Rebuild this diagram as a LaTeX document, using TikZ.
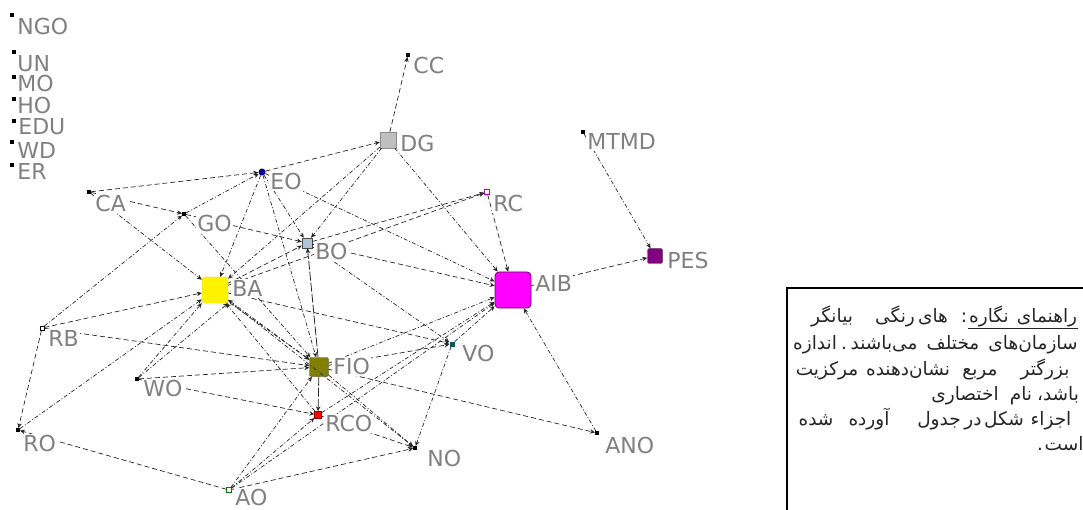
\documentclass[tikz,border=0pt]{standalone}
\usepackage{fontspec}
\setmainfont{DejaVu Sans}
\newfontfamily\fa[Script=Arabic]{DejaVu Sans}
\usetikzlibrary{arrows.meta}
\TeXXeTstate=1
\newcommand\RR[1]{\beginR #1\endR}
\definecolor{labgray}{RGB}{128,128,128}
\definecolor{bocol}{RGB}{176,196,222}
\definecolor{pescol}{RGB}{128,0,128}
\definecolor{fiocol}{RGB}{128,128,0}
\definecolor{eocol}{RGB}{0,0,140}
\definecolor{vocol}{RGB}{0,90,90}
\definecolor{aibcol}{RGB}{255,0,255}
\tikzset{
  mk/.style={rectangle, fill=black, minimum size=3.5pt, inner sep=0pt},
  lab/.style={text=labgray, font=\fontsize{22}{24}\selectfont, inner sep=1.2pt, fill=white, anchor=north west},
  lnk/.style={draw=black!85, line width=0.7pt, dash pattern=on 4pt off 2pt on 1pt off 2pt, -{Stealth[length=5pt,width=4.5pt]}},
  lnd/.style={draw=black!85, line width=0.7pt, dash pattern=on 5pt off 3pt, -{Stealth[length=5pt,width=4.5pt]}},
  lns/.style={draw=black!85, line width=0.8pt, dash pattern=on 9pt off 2pt, -{Stealth[length=5pt,width=4.5pt]}},
  fw/.style={font=\fa\fontsize{18.5}{20}\selectfont, text=black!85, inner sep=0pt, anchor=base}
}
\begin{document}
\begin{tikzpicture}[x=1pt,y=-1pt]
\useasboundingbox (0,0) rectangle (1083,510);
% markers
\node[mk] (NGO) at (12,15) {};
\node[mk] (UN) at (14,52) {};
\node[mk] (MO) at (14,77) {};
\node[mk] (HO) at (14,99) {};
\node[mk] (EDU) at (14,121) {};
\node[mk] (WD) at (12,142) {};
\node[mk] (ER) at (12,165) {};
\node[mk] (CA) at (89,192) {};
\node[circle, fill=eocol, minimum size=7pt, inner sep=0pt] (EO) at (262,172) {};
\node[mk] (GO) at (184,214) {};
\node[rectangle, fill=bocol, draw=black!70, minimum size=10pt, inner sep=0pt] (BO) at (307,243) {};
\node[rectangle, rounded corners=3pt, fill=yellow, draw=yellow!85!black, minimum size=26pt, inner sep=0pt] (BA) at (215,290) {};
\node[rectangle, fill=black!25, draw=black!45, minimum size=16pt, inner sep=0pt] (DG) at (388,140) {};
\node[mk] (CC) at (408,55) {};
\node[rectangle, fill=white, draw=aibcol!70!black, minimum size=5pt, inner sep=0pt] (RC) at (487,192) {};
\node[rectangle, rounded corners=4pt, fill=aibcol, draw=pescol!80!black, line width=0.8pt, minimum size=36pt, inner sep=0pt] (AIB) at (513,290) {};
\node[mk] (MTMD) at (583,132) {};
\node[rectangle, rounded corners=2pt, fill=pescol, draw=black!80, minimum size=15pt, inner sep=0pt] (PES) at (655,256) {};
\node[rectangle, fill=white, draw=black, minimum size=4.5pt, inner sep=0pt] (RB) at (42,328) {};
\node[rectangle, rounded corners=2pt, fill=fiocol, draw=black!75, minimum size=19pt, inner sep=0pt] (FIO) at (319,367) {};
\node[mk] (WO) at (137,379) {};
\node[mk] (RO) at (18,430) {};
\node[rectangle, fill=red, draw=red!60!black, minimum size=7pt, inner sep=0pt] (RCO) at (318,415) {};
\node[rectangle, fill=white, draw=green!50!black, minimum size=5pt, inner sep=0pt] (AO) at (229,490) {};
\node[rectangle, fill=vocol, minimum size=5pt, inner sep=0pt] (VO) at (452,344) {};
\node[mk] (NO) at (415,448) {};
\node[mk] (ANO) at (597,433) {};
% edges
\draw[lnd] (CA) -- (EO);
\draw[lnd] (CA) -- (GO);
\draw[lnk] (CA) -- (BA);
\draw[lnk] (RB) -- (GO);
\draw[lnd] (RB) -- (BA);
\draw[lnd] (RB) -- (FIO);
\draw[lnd] (RB) -- (RO);
\draw[lnk] (RO) -- (BA);
\draw[lnd] (AO) -- (RO);
\draw[lnk] (WO) -- (BA.south west);
\draw[lnk] (WO) -- (BA.south east);
\draw[lnd] (WO) -- (FIO);
\draw[lnd] (WO) -- (RCO);
\draw[lnk] (GO) -- (EO);
\draw[lnd] (GO) -- (BO);
\draw[lnk] (GO) -- (FIO);
\draw[lnk] (EO) -- (BA);
\draw[lnk] (EO) -- (BO);
\draw[lnk] (EO) -- (FIO);
\draw[lnd] (EO) -- (DG);
\draw[lnk] (EO) -- (AIB);
\draw[lnk] (DG) -- (BO);
\draw[lnk] (DG) -- (BA);
\draw[lnd] (DG) -- (CC);
\draw[lnk] (DG) -- (AIB);
\draw[lnd] (BA) -- (BO);
\draw[lnd] (BA) -- (RC);
\draw[lnd] (BO) -- (RC);
\draw[lnd] (BO) -- (AIB);
\draw[lnk] (BO) -- (VO);
\draw[lnd] (RC) -- (AIB);
\draw[lnk, {Stealth[length=5pt,width=4.5pt]}-{Stealth[length=5pt,width=4.5pt]}] (BA) -- (FIO);
\draw[lnk] ([xshift=2pt]BA.south east) -- ([yshift=-2pt]FIO.north west);
\draw[lnd] (BA) -- (VO);
\draw[lnk] (RCO) -- (BA);
\draw[lnk] (BA) -- (NO);
\draw[lns] (FIO) -- (BO);
\draw[lns] (FIO) -- (RCO);
\draw[lnd] (FIO) -- (VO);
\draw[lnk] (FIO) -- (AIB);
\draw[lnd] (FIO) -- (ANO);
\draw[lnk] (FIO) -- (NO);
\draw[lnk] (AO) -- (FIO);
\draw[lnk] (AO) -- (RCO);
\draw[lnd] (RCO) -- (NO);
\draw[lnk] (RCO) -- (AIB);
\draw[lnd] (AO) -- (NO);
\draw[lnk] (AO) -- (AIB);
\draw[lnk] (VO) -- (AIB);
\draw[lnk] (VO) -- (NO);
\draw[lnk] (ANO) -- (AIB);
\draw[lnd] (AIB) -- (PES);
\draw[lnk] (MTMD) -- (PES);
% labels
\node[lab] (tNGO) at (16,17) {NGO};
\node[lab] (tUN) at (16,54) {UN};
\node[lab] (tMO) at (16,74) {MO};
\node[lab] (tHO) at (16,96) {HO};
\node[lab] (tEDU) at (17,117) {EDU};
\node[lab] (tWD) at (16,141) {WD};
\node[lab] (tER) at (16,162) {ER};
\node[lab] (tCA) at (94,194) {CA};
\node[lab] (tEO) at (269,172) {EO};
\node[lab] (tGO) at (196,214) {GO};
\node[lab] (tBO) at (314,242) {BO};
\node[lab] (tBA) at (231,279) {BA};
\node[lab] (tDG) at (399,134) {DG};
\node[lab] (tCC) at (412,56) {CC};
\node[lab] (tRC) at (492,194) {RC};
\node[lab] (tAIB) at (534,274) {AIB};
\node[lab] (tMTMD) at (586,132) {MTMD};
\node[lab] (tPES) at (666,251) {PES};
\node[lab] (tRB) at (47,329) {RB};
\node[lab] (tFIO) at (332,357) {FIO};
\node[lab] (tWO) at (142,379) {WO};
\node[lab] (tRO) at (22,434) {RO};
\node[lab] (tRCO) at (324,414) {RCO};
\node[lab] (tAO) at (234,488) {AO};
\node[lab] (tVO) at (461,344) {VO};
\node[lab] (tNO) at (426,449) {NO};
\node[lab] (tANO) at (604,436) {ANO};
% legend box
\draw[line width=1.6pt] (787,520) -- (787,288) -- (1090,288);
% line 1
\node[fw] (w11) at (1047,323) {\RR{راهنمای}};
\node[fw] (w12) at (989,323) {\RR{نگاره}};
\node[fw] (w13) at (964,323) {:};
\draw[line width=0.8pt, black!85] (968,328.5) -- (1078,328.5);
\node[fw] (w14) at (933,323) {\RR{های}};
\node[fw] (w15) at (895,323) {\RR{رنگی}};
\node[fw] (w16) at (832,323) {\RR{بیانگر}};
% line 2
\node[fw] (w21) at (1033,349) {\RR{سازمان‌های}};
\node[fw] (w22) at (953,349) {\RR{مختلف}};
\node[fw] (w23) at (884,349) {\RR{می‌باشند}};
\node[fw] (w24) at (844,349) {.};
\node[fw] (w25) at (815,349) {\RR{اندازه}};
% line 3
\node[fw] (w31) at (1045,375) {\RR{بزرگتر}};
\node[fw] (w32) at (980,375) {\RR{مربع}};
\node[fw] (w33) at (908,375) {\RR{نشان‌دهنده}};
\node[fw] (w34) at (827,375) {\RR{مرکزیت}};
% line 4
\node[fw] (w41) at (1061,400) {\RR{باشد}};
\node[fw] (w42) at (1040,400) {،};
\node[fw] (w43) at (1021,400) {\RR{نام}};
\node[fw] (w44) at (965,400) {\RR{اختصاری}};
% line 5
\node[fw] (w51) at (1051,425) {\RR{اجزاء}};
\node[fw] (w52) at (1004,425) {\RR{شکل}};
\node[fw] (w53) at (973,425) {\RR{در}};
\node[fw] (w54) at (939,425) {\RR{جدول}};
\node[fw] (w55) at (869,425) {\RR{آورده}};
\node[fw] (w56) at (816,425) {\RR{شده}};
% line 6
\node[fw] (w61) at (1064,450) {\RR{است}};
\node[fw] (w62) at (1040,450) {.};
\end{tikzpicture}
\end{document}
